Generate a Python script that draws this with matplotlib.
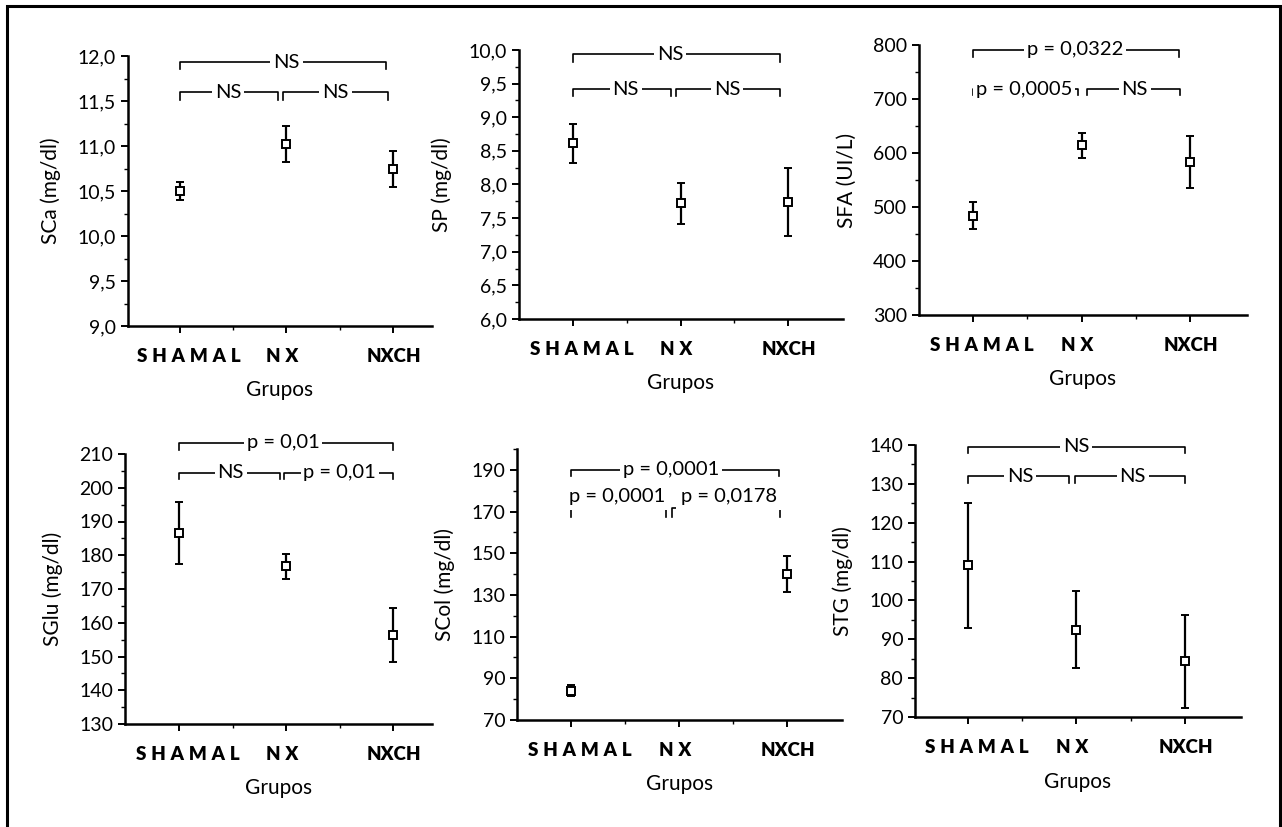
import numpy as np
import matplotlib
matplotlib.use("Agg")
import matplotlib.pyplot as plt
import matplotlib.transforms as mtransforms
from matplotlib.patches import Rectangle
from matplotlib.ticker import MultipleLocator, FuncFormatter

plt.rcParams['font.family'] = ['Lato', 'DejaVu Sans']

W, H = 1282, 827

# data (mean, half error bar)
groups = ["SHAMAL", "NX", "NXCH"]
sp_ = "\u2005"
group_labels = [sp_.join("SHAMAL"), sp_.join("NX"), "NXCH"]

sca_mean = [10.50, 11.02, 10.74]
sca_err = [0.10, 0.20, 0.20]
sp_mean = [8.61, 7.72, 7.74]
sp_err = [0.29, 0.30, 0.50]
sfa_mean = [484, 614, 584]
sfa_err = [25, 23, 48]
sglu_mean = [186.5, 176.8, 156.3]
sglu_err = [9.2, 3.7, 8.0]
scol_mean = [84.1, np.nan, 140.0]
scol_err = [2.6, np.nan, 8.7]
stg_mean = [109.0, 92.4, 84.3]
stg_err = [16.0, 9.9, 12.0]

ylabels = ["SCa (mg/dl)", "SP (mg/dl)", "SFA (UI/L)",
           "SGlu (mg/dl)", "SCol (mg/dl)", "STG (mg/dl)"]

# brackets: (x0, x1, y, drop, label, text x, text y)
sca_br = [(1, 2.93, 11.93, 0.07, "NS", 2.0, None),
          (1, 1.92, 11.60, 0.09, "NS", 1.45, None),
          (1.97, 2.95, 11.60, 0.09, "NS", 2.46, None)]
sp_br = [(1, 2.92, 9.94, 0.12, "NS", 1.9, None),
         (1, 1.91, 9.42, 0.11, "NS", 1.49, None),
         (1.96, 2.92, 9.42, 0.11, "NS", 2.43, None)]
sfa_br = [(1, 2.9, 791, 13, "p = 0,0322", 1.94, None),
          (1, 1.97, 718, 11, "p = 0,0005", 1.47, None),
          (2.05, 2.91, 718, 11, "NS", 2.49, None)]
sglu_br = [(1, 3, 213.3, 2, "p = 0,01", 1.97, None),
           (1, 1.94, 204.5, 2, "NS", 1.48, None),
           (1.98, 3, 204.5, 2, "p = 0,01", 2.5, None)]
scol_br = [(1, 2.93, 190, 3, "p = 0,0001", 1.93, None),
           (1, 1.88, 171.6, 4, "p = 0,0001", 1.43, 177),
           (1.94, 2.94, 171.6, 4, "p = 0,0178", 2.46, 177)]
stg_br = [(1, 3, 139.6, 1.7, "NS", 2.0, None),
          (1, 1.93, 132, 1.9, "NS", 1.48, None),
          (1.99, 3, 132, 1.9, "NS", 2.52, None)]

# panel layout in pixels: x0, x1, y_top, y_bottom, xlim, ylim, major, minor, decimals
panels = [
    (128, 432, 56, 326, (0.512, 3.366), (9, 12), 0.5, 0.25, 1),
    (519, 843, 50, 319, (0.498, 3.51), (6, 10), 0.5, 0.25, 1),
    (919, 1247, 45, 315, (0.502, 3.525), (300, 800), 100, 50, 0),
    (125, 432, 454, 724, (0.495, 3.36), (130, 210), 10, 5, 0),
    (517, 842, 449, 720, (0.5, 3.51), (70, 200), 20, 10, 0),
    (915, 1241, 445, 717, (0.51, 3.52), (70, 140), 10, 5, 0),
]
means = [sca_mean, sp_mean, sfa_mean, sglu_mean, scol_mean, stg_mean]
errs = [sca_err, sp_err, sfa_err, sglu_err, scol_err, stg_err]
brackets = [sca_br, sp_br, sfa_br, sglu_br, scol_br, stg_br]
label_shift = [9, -4, 1]  # px, category labels sit a bit off their ticks

fig = plt.figure(figsize=(W / 100, H / 100), dpi=100)

for i, (x0, x1, yt, yb, xl, yl, major, minor, dec) in enumerate(panels):
    ax = fig.add_axes([x0 / W, 1 - yb / H, (x1 - x0) / W, (yb - yt) / H])
    xs = np.arange(1, len(groups) + 1)
    ax.errorbar(xs, means[i], yerr=errs[i], fmt='s', ms=6, mfc='white', mec='black',
                mew=1.4, ecolor='black', elinewidth=1.6, capsize=2.8, capthick=1.6)
    ax.set_xlim(*xl)
    ax.set_ylim(*yl)
    if i == 4:
        ax.set_yticks(np.arange(70, 191, 20))
    else:
        ax.yaxis.set_major_locator(MultipleLocator(major))
    ax.yaxis.set_minor_locator(MultipleLocator(minor))
    ax.yaxis.set_major_formatter(FuncFormatter(
        lambda v, p, d=dec: f"{v:.{d}f}".replace('.', ',')))
    ax.set_xticks(xs)
    ax.set_xticklabels(group_labels, fontweight='heavy', fontsize=13.5)
    ax.set_xticks([1.5, 2.5], minor=True)
    ax.tick_params(axis='both', which='major', length=5, width=1.4, labelsize=14)
    ax.tick_params(axis='both', which='minor', length=3, width=1.0)
    ax.tick_params(axis='x', which='major', pad=11, labelsize=13.5)
    for lab, dx in zip(ax.get_xticklabels(), label_shift):
        lab.set_transform(lab.get_transform() +
                          mtransforms.ScaledTranslation(dx / 100, 0, fig.dpi_scale_trans))
    for s in ['top', 'right']:
        ax.spines[s].set_visible(False)
    for s in ['left', 'bottom']:
        ax.spines[s].set_linewidth(1.8)
    ax.set_ylabel(ylabels[i], fontsize=15, labelpad=12)
    ax.set_xlabel("Grupos", fontsize=15, labelpad=11)

    for bx0, bx1, by, drop, lab, tx, ty in brackets[i]:
        ax.plot([bx0, bx0, bx1, bx1], [by - drop, by, by, by - drop],
                color='black', lw=1.2, clip_on=False)
        ax.text(tx, by if ty is None else ty, lab, ha='center', va='center', fontsize=14.5,
                bbox=dict(fc='white', ec='none', pad=2 if ty is None else 3), clip_on=False)

fig.add_artist(Rectangle((7 / W, -0.02), (1280 - 7) / W, 1.02 - 6 / H,
                         transform=fig.transFigure, fill=False, lw=2.2, ec='black'))

fig.savefig("out.png", dpi=100, facecolor='white')
